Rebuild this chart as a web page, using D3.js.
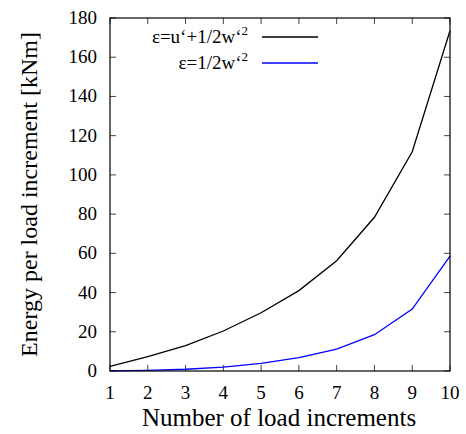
<!DOCTYPE html>
<html>
<head>
<meta charset="utf-8">
<script src="https://cdn.jsdelivr.net/npm/d3@7"></script>
<style>
body { margin: 0; background: #fff; }
svg text { font-family: "Liberation Serif", "Times New Roman", "DejaVu Serif", serif; }
</style>
</head>
<body>
<script>
// data
var increments = [1, 2, 3, 4, 5, 6, 7, 8, 9, 10];
var energyFull = [2.3, 7.3, 12.9, 20.4, 29.7, 41.0, 56.2, 78.4, 111.8, 173.5];
var energyW = [0.1, 0.3, 0.9, 2.0, 3.9, 6.8, 11.2, 18.5, 31.6, 58.6];
var yTicks = [0, 20, 40, 60, 80, 100, 120, 140, 160, 180];
var seriesNames = ["ε=u‘+1/2w‘", "ε=1/2w‘"];
var seriesColors = ["#000000", "#0000ff"];

var w = 466, h = 434;
var margin = {left: 110, right: 16, top: 18, bottom: 63};

var svg = d3.select("body").append("svg")
    .attr("width", w)
    .attr("height", h);

var x = d3.scaleLinear().domain([1, 10]).range([margin.left, w - margin.right]);
var y = d3.scaleLinear().domain([0, 180]).range([h - margin.bottom, margin.top]);

// ticks on all four sides, pointing inward
var tl = 6;
var g = svg.append("g").attr("stroke", "#444").attr("stroke-width", 1);
increments.forEach(function(d) {
  g.append("line").attr("x1", x(d)).attr("x2", x(d)).attr("y1", y(0)).attr("y2", y(0) - tl);
  g.append("line").attr("x1", x(d)).attr("x2", x(d)).attr("y1", y(180)).attr("y2", y(180) + tl);
});
yTicks.forEach(function(d) {
  g.append("line").attr("x1", x(1)).attr("x2", x(1) + tl).attr("y1", y(d)).attr("y2", y(d));
  g.append("line").attr("x1", x(10)).attr("x2", x(10) - tl).attr("y1", y(d)).attr("y2", y(d));
});

svg.selectAll(".xt").data(increments).enter().append("text")
    .attr("class", "xt")
    .attr("x", d => x(d))
    .attr("y", y(0) + 28)
    .attr("text-anchor", "middle")
    .style("font-size", "19px")
    .text(d => d);

svg.selectAll(".yt").data(yTicks).enter().append("text")
    .attr("class", "yt")
    .attr("x", x(1) - 13)
    .attr("y", d => y(d) + 6)
    .attr("text-anchor", "end")
    .style("font-size", "19px")
    .text(d => d);

var line = d3.line()
    .x((d, i) => x(increments[i]))
    .y(d => y(d));

[energyFull, energyW].forEach(function(s, i) {
  svg.append("path")
      .attr("d", line(s))
      .attr("fill", "none")
      .attr("stroke", seriesColors[i])
      .attr("stroke-width", 1.3);
});

// frame
svg.append("rect")
    .attr("x", x(1)).attr("y", y(180))
    .attr("width", x(10) - x(1)).attr("height", y(0) - y(180))
    .attr("fill", "none").attr("stroke", "#000").attr("stroke-width", 1.2);

// legend
var leg = svg.selectAll(".leg").data(seriesNames).enter().append("g")
    .attr("class", "leg")
    .attr("transform", (d, i) => "translate(0," + (37 + i * 26) + ")");
var lt = leg.append("text")
    .attr("x", 248).attr("y", 6)
    .attr("text-anchor", "end")
    .style("font-size", "19px");
lt.append("tspan").text(d => d);
lt.append("tspan").attr("dy", -8).style("font-size", "13px").text("2");
leg.append("line")
    .attr("x1", 262).attr("x2", 318)
    .attr("stroke", (d, i) => seriesColors[i])
    .attr("stroke-width", 1.3);

svg.append("text")
    .attr("x", (x(1) + x(10)) / 2 - 1)
    .attr("y", h - 8)
    .attr("text-anchor", "middle")
    .style("font-size", "25px")
    .text("Number of load increments");

svg.append("text")
    .attr("transform", "translate(37," + ((y(0) + y(180)) / 2) + ") rotate(-90)")
    .attr("text-anchor", "middle")
    .style("font-size", "24px")
    .text("Energy per load increment [kNm]");
</script>
</body>
</html>
